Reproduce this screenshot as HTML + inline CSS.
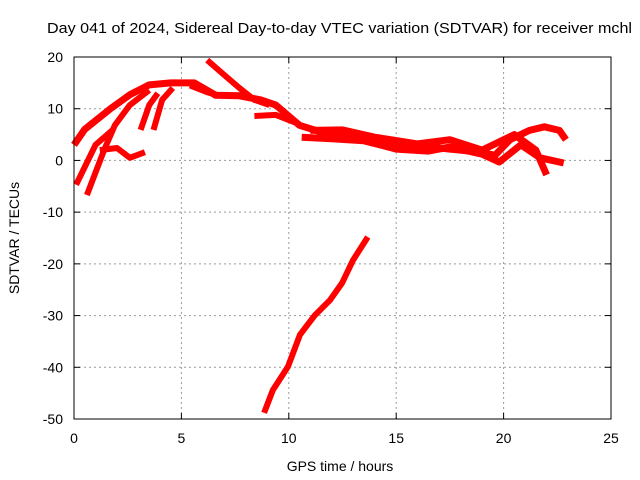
<!DOCTYPE html>
<html><head><meta charset="utf-8"><style>
body{margin:0;background:#fff;}
svg{display:block;font-family:"Liberation Sans",sans-serif;}
</style></head><body>
<svg id="chart" width="640" height="480" viewBox="0 0 640 480">
<rect width="640" height="480" fill="#fff"/>
<text x="47" y="33" font-size="14.5" textLength="585" lengthAdjust="spacingAndGlyphs">Day 041 of 2024, Sidereal Day-to-day VTEC variation (SDTVAR) for receiver mchl</text>
<g id="grid"></g>
<g id="ticks"></g>
<g id="series"></g>
<rect x="74" y="57" width="537" height="362" fill="none" stroke="#000" stroke-width="1"/>
<text x="340" y="471" font-size="14" text-anchor="middle">GPS time / hours</text>
<text x="19" y="238" font-size="14" text-anchor="middle" transform="rotate(-90 19 238)">SDTVAR / TECUs</text>
</svg>
<script>
const xTicks=[0,5,10,15,20,25];
const yTicks=[20,10,0,-10,-20,-30,-40,-50];
const serA_x=[0,0.5,1.7,2.6,3.5,4.5,5.6,6.6,7.7,8.7,9.4,10.5,11.5,13.3,15.2,17,18.9,19.6,20.3,21.2,21.9,22.6,22.9];
const serA_y=[3,6,10,12.7,14.6,15,15,12.6,12.5,11.7,10.7,6.8,5.5,4.9,3,2.4,1.6,1,4,5.8,6.5,5.8,4];
const serB_x=[0.6,1.4,1.9,2.6,3.5];
const serB_y=[-6.7,2,6.8,10.7,13.6];
const serC_x=[0.1,0.3,1,1.8];
const serC_y=[-4.7,-3,3,5.9];
const serD_x=[1.2,2,2.6,3.3];
const serD_y=[2,2.4,0.5,1.6];
const serE_x=[3.1,3.5,3.9];
const serE_y=[5.9,10.7,13];
const serF_x=[3.7,4.1,4.6];
const serF_y=[5.9,11.7,14];
const serG_x=[6.2,7,7.7,8.4,9.1];
const serG_y=[19.4,16.5,14,11.7,10.7];
const serH_x=[5.4,6.2,6.8];
const serH_y=[14.5,13.2,12.5];
const serI_x=[8.4,9.4,10.5];
const serI_y=[8.6,8.8,7];
const serJ_x=[10.6,12,13.5,15,16.5,17.5,19,19.8,20.8,21.7,22.8];
const serJ_y=[4.5,4.2,3.8,2.2,1.8,2.6,1.2,-0.3,3,0.5,-0.5];
const serK_x=[11,12.5,14,16,17.5,19,20.5,21.5,22];
const serK_y=[5.8,5.9,4.5,3.2,4,2,5,2,-2.8];
const serL_x=[8.85,9.26,9.96,10.52,11.22,11.92,12.48,12.99,13.68];
const serL_y=[-48.8,-44.4,-39.9,-33.7,-29.9,-27,-23.7,-19.3,-14.8];
const allX=[serA_x,serB_x,serC_x,serD_x,serE_x,serF_x,serG_x,serH_x,serI_x,serJ_x,serK_x,serL_x];
const allY=[serA_y,serB_y,serC_y,serD_y,serE_y,serF_y,serG_y,serH_y,serI_y,serJ_y,serK_y,serL_y];
const NS='http://www.w3.org/2000/svg';
const X0=74,X1=611,Y0=57,Y1=419;
function sx(v){return X0+(v-0)/(25-0)*(X1-X0);}
function sy(v){return Y0+(20-v)/(20-(-50))*(Y1-Y0);}
const grid=document.getElementById('grid'),ticks=document.getElementById('ticks'),ser=document.getElementById('series');
function mk(t,a,p){const e=document.createElementNS(NS,t);for(const k in a)e.setAttribute(k,a[k]);p.appendChild(e);return e;}
xTicks.forEach(v=>{
 const x=sx(v);
 if(v>0&&v<25){const g=mk('line',{x1:x,x2:x,y1:Y0,y2:Y1,stroke:'#999','stroke-dasharray':'2,3'},grid);
 
 }
 mk('line',{x1:x,x2:x,y1:Y1,y2:Y1-6,stroke:'#000'},ticks);
 mk('line',{x1:x,x2:x,y1:Y0,y2:Y0+6,stroke:'#000'},ticks);
 const t=mk('text',{x:x,y:443,'font-size':14,'text-anchor':'middle'},ticks);t.textContent=v;
 
 
});
yTicks.forEach(v=>{
 const y=sy(v);
 if(v<20&&v>-50){const g=mk('line',{x1:X0,x2:X1,y1:y,y2:y,stroke:'#999','stroke-dasharray':'2,3'},grid);
 
 }
 mk('line',{x1:X0,x2:X0+6,y1:y,y2:y,stroke:'#000'},ticks);
 mk('line',{x1:X1,x2:X1-6,y1:y,y2:y,stroke:'#000'},ticks);
 const t=mk('text',{x:63,y:y+5,'font-size':14,'text-anchor':'end'},ticks);t.textContent=v;
 
 
});
allX.forEach((xs,i)=>{
 const pts=xs.map((x,j)=>sx(x).toFixed(1)+','+sy(allY[i][j]).toFixed(1)).join(' ');
 const p=mk('polyline',{points:pts,fill:'none',stroke:'#ff0000','stroke-width':(i==0||i==9||i==10)?7:6,'stroke-linejoin':'round','stroke-linecap':'butt'},ser);
 
 
});
</script>
</body></html>
